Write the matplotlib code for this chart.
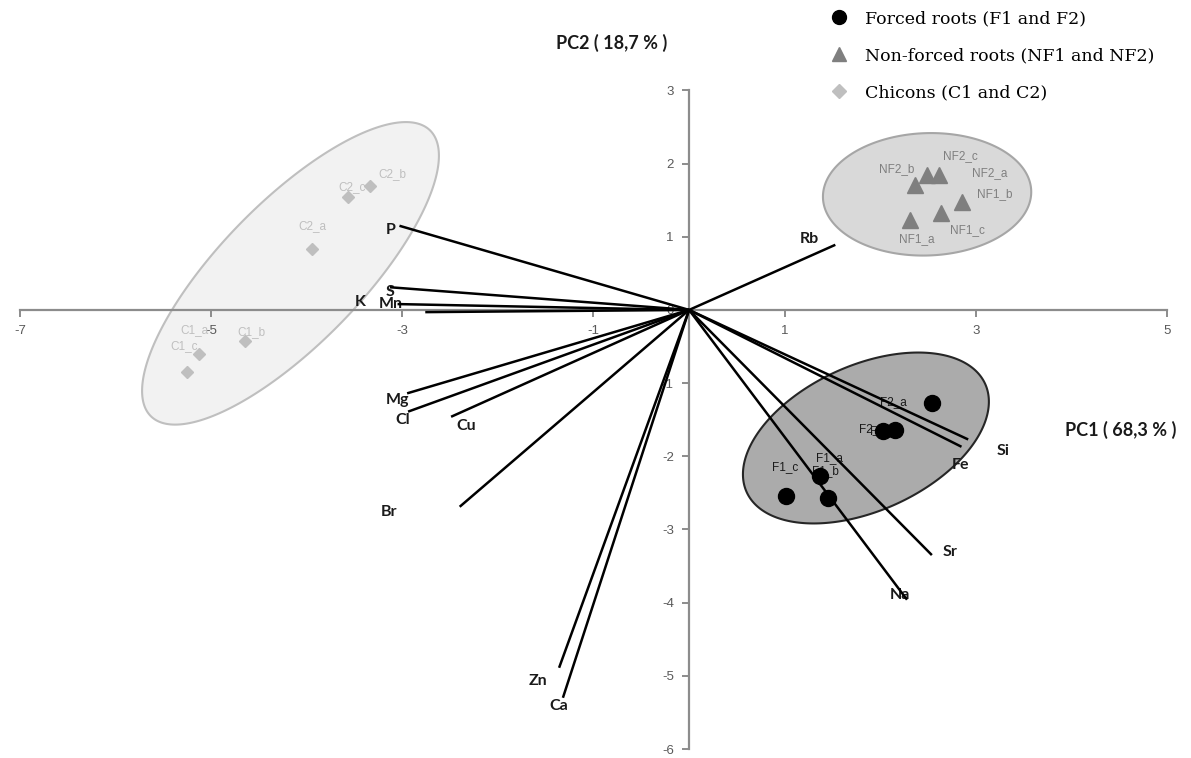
"""
PCA biplot: mineral elements in forced / non-forced chicory roots and chicons.
Output: out.png
"""

import numpy as np
import matplotlib.pyplot as plt
from matplotlib.lines import Line2D

plt.rcParams["axes.unicode_minus"] = False

# ---- scores (samples) ----
f_names = ["F1_a", "F1_b", "F1_c", "F2_a", "F2_b", "F2_c"]
f_pc1 = [1.37, 1.45, 1.01, 2.54, 2.03, 2.15]
f_pc2 = [-2.27, -2.57, -2.54, -1.27, -1.66, -1.64]

nf_names = ["NF1_a", "NF1_b", "NF1_c", "NF2_a", "NF2_b", "NF2_c"]
nf_pc1 = [2.31, 2.86, 2.64, 2.61, 2.36, 2.49]
nf_pc2 = [1.23, 1.47, 1.32, 1.84, 1.71, 1.84]

c_names = ["C1_a", "C1_b", "C1_c", "C2_a", "C2_b", "C2_c"]
c_pc1 = [-5.13, -4.65, -5.25, -3.94, -3.34, -3.57]
c_pc2 = [-0.60, -0.43, -0.85, 0.83, 1.70, 1.54]

# ---- loadings (variables) ----
elements = ["P", "S", "K", "Mn", "Mg", "Cl", "Cu", "Br", "Zn", "Ca",
            "Na", "Sr", "Fe", "Si", "Rb"]
load_pc1 = [-3.03, -3.13, -2.76, -3.05, -2.95, -2.94, -2.49, -2.40, -1.36, -1.32,
            2.28, 2.54, 2.85, 2.92, 1.53]
load_pc2 = [1.15, 0.31, -0.03, 0.08, -1.14, -1.39, -1.46, -2.69, -4.89, -5.30,
            -3.96, -3.35, -1.87, -1.77, 0.89]

x_ticks = [-7, -5, -3, -1, 1, 3, 5]
y_ticks = [-6, -5, -4, -3, -2, -1, 0, 1, 2, 3]

# label offsets in points (dx, dy)
elem_offsets = {
    "P": (-6, -3), "S": (0, -3.5), "K": (-47, 7), "Mn": (-5, 0),
    "Mg": (-7, -5), "Cl": (-4, -6), "Cu": (11, -7), "Br": (-51, -3.5),
    "Zn": (-15, -9.5), "Ca": (-3, -6), "Na": (-5, 3.5), "Sr": (13, 2),
    "Fe": (-1, -13), "Si": (25, -8), "Rb": (-19, 4),
}
sample_offsets = {
    "C2_b": (16, 8.5), "C2_c": (3, 7), "C2_a": (0, 17), "C1_b": (5, 6.5),
    "C1_a": (-3, 17), "C1_c": (-2, 18.5),
    "NF2_b": (-13, 11), "NF2_c": (24, 14), "NF2_a": (37, 1.5), "NF1_b": (23, 6),
    "NF1_c": (19, -12), "NF1_a": (5, -14),
    "F2_a": (-28, 0.7), "F2_b": (-8, 1.4), "F2_c": (-8, -0.7),
    "F1_a": (7, 13), "F1_b": (-1.5, 19.5), "F1_c": (0, 20.5),
}

W, H = 1191, 758
fig = plt.figure(figsize=(W / 100, H / 100), dpi=100)
ax = fig.add_axes([20 / W, 9 / H, 1147 / W, 658.6 / H])
ax.set_xlim(-7, 5)
ax.set_ylim(-6, 3)

# y-units per x-unit of equal on-screen length
yfac = (1147 / 12) / (658.6 / 9)


def ellipse(cx, cy, a, b, ang, **kw):
    t = np.linspace(0, 2 * np.pi, 300)
    th = np.radians(ang)
    x = cx + a * np.cos(t) * np.cos(th) - b * np.sin(t) * np.sin(th)
    y = cy + (a * np.cos(t) * np.sin(th) + b * np.sin(t) * np.cos(th)) * yfac
    ax.fill(x, y, **kw)


ellipse(-4.17, 0.50, 2.09, 0.74, 45.7, facecolor="#f2f2f2", edgecolor="#bfbfbf", lw=1.5, zorder=1)
ellipse(2.49, 1.58, 1.09, 0.64, 2, facecolor="#d9d9d9", edgecolor="#a6a6a6", lw=1.5, zorder=1)
ellipse(1.85, -1.75, 1.37, 0.76, 24.4, facecolor="#ababab", edgecolor="#262626", lw=1.5, zorder=1)

# axes through origin, Excel style
for side in ["top", "right"]:
    ax.spines[side].set_visible(False)
ax.spines["left"].set_position(("data", 0))
ax.spines["bottom"].set_position(("data", 0))
for side in ["left", "bottom"]:
    ax.spines[side].set_color("#8c8c8c")
    ax.spines[side].set_linewidth(1.6)
    ax.spines[side].set_zorder(1.5)
ax.set_xticks(x_ticks)
ax.set_yticks(y_ticks)
ax.tick_params(direction="out", length=5, width=1.4, color="#8c8c8c",
               labelcolor="#595959", labelsize=9.5, pad=6)
for lab in ax.get_xticklabels() + ax.get_yticklabels():
    lab.set_fontfamily("Liberation Sans")

# sample labels (under lines and markers)
groups = [
    (c_names, c_pc1, c_pc2, "#bfbfbf"),
    (nf_names, nf_pc1, nf_pc2, "#7f7f7f"),
    (f_names, f_pc1, f_pc2, "#1a1a1a"),
]
for names, xs, ys, col in groups:
    for n, x, y in zip(names, xs, ys):
        ax.annotate(n, (x, y), xytext=sample_offsets[n], textcoords="offset points",
                    ha="center", va="center", fontsize=8.5, color=col,
                    family="Liberation Sans", zorder=2)

# loading vectors
for n, x, y in zip(elements, load_pc1, load_pc2):
    ax.plot([0, x], [0, y], color="black", lw=1.8, zorder=3, solid_capstyle="butt")
    ax.annotate(n, (x, y), xytext=elem_offsets[n], textcoords="offset points",
                ha="center", va="center", fontsize=11.5, fontweight="bold",
                color="#1a1a1a", family="Lato", zorder=2.5)

# sample markers
ax.plot(c_pc1, c_pc2, "D", color="#bfbfbf", ms=6.5, ls="none", zorder=4)
ax.plot(nf_pc1, nf_pc2, "^", color="#7f7f7f", ms=12, ls="none", zorder=4)
ax.plot(f_pc1, f_pc2, "o", color="black", ms=11.5, ls="none", zorder=4)

# axis titles
fig.text(612 / W, 1 - 43 / H, "PC2 ( 18,7 % )", ha="center", va="center",
         fontsize=13, fontweight="bold", family="Lato", color="#1a1a1a")
fig.text(1121 / W, 1 - 430 / H, "PC1 ( 68,3 % )", ha="center", va="center",
         fontsize=13, fontweight="bold", family="Lato", color="#1a1a1a")

handles = [
    Line2D([], [], marker="o", color="black", ls="none", ms=10),
    Line2D([], [], marker="^", color="#7f7f7f", ls="none", ms=10.5),
    Line2D([], [], marker="D", color="#bfbfbf", ls="none", ms=7.5),
]
labels = ["Forced roots (F1 and F2)", "Non-forced roots (NF1 and NF2)",
          "Chicons (C1 and C2)"]
fig.legend(handles, labels, loc="upper left", bbox_to_anchor=(818 / W, 1.0),
           frameon=False, prop={"family": "DejaVu Serif", "size": 12.5},
           labelspacing=1.15, handletextpad=0.9, handlelength=1.2,
           borderaxespad=0.2)

fig.savefig("out.png", dpi=100, facecolor="white")
